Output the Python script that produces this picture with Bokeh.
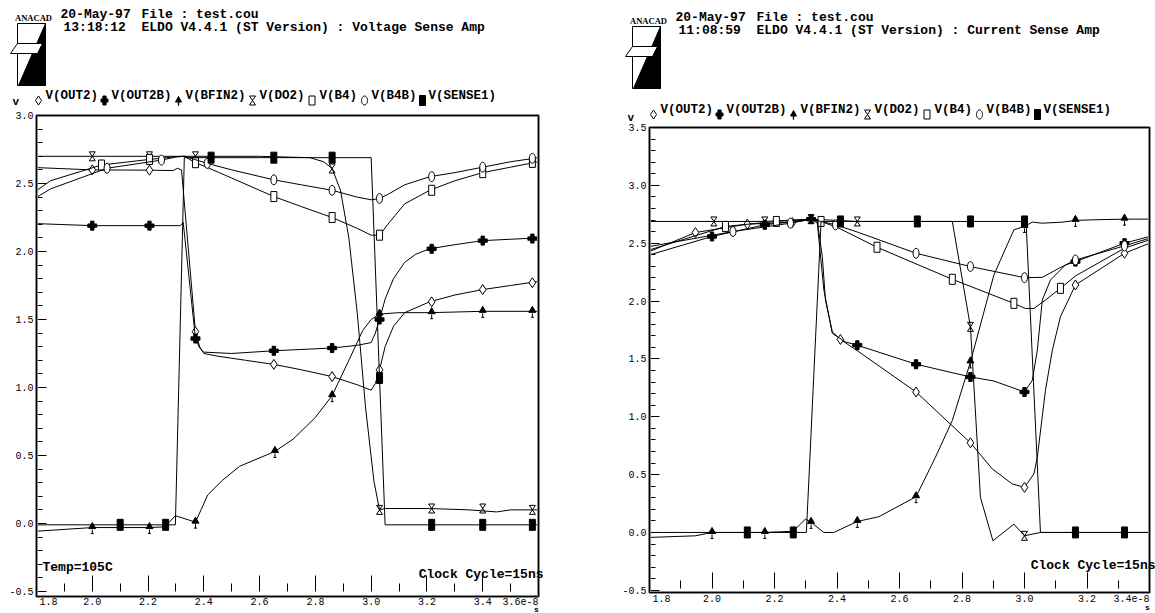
import math
from bokeh.plotting import figure
from bokeh.layouts import row
from bokeh.models import (Range1d, FixedTicker, Label, PolyAnnotation, BoxAnnotation, LinearAxis,
                          PrintfTickFormatter, CustomJSTickFormatter)
from bokeh.embed import file_html
from bokeh.resources import INLINE

# ---------------- axis ticks / labels ----------------
L_XTICKS = [1.8, 2.0, 2.2, 2.4, 2.6, 2.8, 3.0, 3.2, 3.4, 3.6]
L_XMINOR = [1.9, 2.1, 2.3, 2.5, 2.7, 2.9, 3.1, 3.3, 3.5]
L_XLABELS = ["1.8", "2.0", "2.2", "2.4", "2.6", "2.8", "3.0", "3.2", "3.4", "3.6e-8"]
L_YTICKS = [-0.5, 0.0, 0.5, 1.0, 1.5, 2.0, 2.5, 3.0]
R_XTICKS = [1.8, 2.0, 2.2, 2.4, 2.6, 2.8, 3.0, 3.2, 3.4]
R_XMINOR = [1.9, 2.1, 2.3, 2.5, 2.7, 2.9, 3.1, 3.3]
R_XLABELS = ["1.8", "2.0", "2.2", "2.4", "2.6", "2.8", "3.0", "3.2", "3.4e-8"]
R_YTICKS = [-0.5, 0.0, 0.5, 1.0, 1.5, 2.0, 2.5, 3.0, 3.5]

SERIES = ["V(OUT2)", "V(OUT2B)", "V(BFIN2)", "V(DO2)", "V(B4)", "V(B4B)", "V(SENSE1)"]

# ---------------- left panel: Voltage Sense Amp (time in 1e-8 s, volts) ----------------
L_OUT2_T = [1.8, 2.0, 2.2, 2.29, 2.305, 2.32, 2.37, 2.385, 2.40, 2.45, 2.55, 2.651, 2.75, 2.86, 2.95, 3.0, 3.015, 3.03, 3.05, 3.08, 3.12, 3.21, 3.3, 3.4, 3.5, 3.6]
L_OUT2_V = [2.617, 2.60, 2.598, 2.595, 2.612, 2.60, 1.41, 1.30, 1.25, 1.23, 1.20, 1.17, 1.13, 1.08, 1.02, 0.98, 1.03, 1.13, 1.30, 1.45, 1.55, 1.63, 1.68, 1.72, 1.75, 1.78]
L_OUT2_MT = [2.0, 2.205, 2.37, 2.651, 2.86, 3.03, 3.217, 3.4, 3.578]
L_OUT2_MV = [2.60, 2.598, 1.41, 1.17, 1.08, 1.13, 1.63, 1.72, 1.77]

L_OUT2B_T = [1.8, 2.0, 2.2, 2.316, 2.326, 2.37, 2.385, 2.40, 2.5, 2.651, 2.86, 2.95, 3.0, 3.015, 3.03, 3.05, 3.08, 3.12, 3.16, 3.21, 3.3, 3.4, 3.5, 3.6]
L_OUT2B_V = [2.205, 2.19, 2.19, 2.19, 2.215, 1.36, 1.29, 1.26, 1.25, 1.27, 1.29, 1.31, 1.33, 1.40, 1.50, 1.65, 1.80, 1.92, 1.98, 2.02, 2.05, 2.08, 2.09, 2.10]
L_OUT2B_MT = [2.0, 2.205, 2.37, 2.651, 2.86, 3.03, 3.217, 3.4, 3.578]
L_OUT2B_MV = [2.19, 2.19, 1.36, 1.27, 1.29, 1.50, 2.02, 2.08, 2.095]

L_BFIN2_T = [1.8, 2.0, 2.205, 2.26, 2.298, 2.37, 2.39, 2.414, 2.468, 2.528, 2.655, 2.72, 2.80, 2.86, 2.92, 2.97, 3.0, 3.03, 3.1, 3.21, 3.4, 3.6]
L_BFIN2_V = [-0.057, -0.03, -0.03, -0.025, 0.057, 0.01, 0.10, 0.21, 0.32, 0.42, 0.53, 0.62, 0.78, 0.94, 1.20, 1.42, 1.50, 1.54, 1.55, 1.55, 1.56, 1.56]
L_BFIN2_MT = [2.0, 2.205, 2.37, 2.655, 2.86, 3.03, 3.217, 3.4, 3.578]
L_BFIN2_MV = [-0.03, -0.03, 0.01, 0.53, 0.94, 1.54, 1.55, 1.56, 1.56]

L_DO2_T = [1.8, 2.0, 2.205, 2.37, 2.6, 2.78, 2.83, 2.86, 2.89, 2.92, 2.95, 2.98, 3.01, 3.03, 3.05, 3.21, 3.35, 3.45, 3.5, 3.6]
L_DO2_V = [2.70, 2.70, 2.70, 2.70, 2.70, 2.69, 2.66, 2.61, 2.45, 2.10, 1.55, 0.85, 0.31, 0.10, 0.11, 0.11, 0.10, 0.085, 0.10, 0.10]
L_DO2_MT = [2.0, 2.205, 2.37, 2.86, 3.03, 3.217, 3.4, 3.578]
L_DO2_MV = [2.70, 2.70, 2.70, 2.61, 0.10, 0.11, 0.11, 0.10]

L_B4_T = [1.8, 1.85, 2.033, 2.205, 2.30, 2.33, 2.37, 2.41, 2.5, 2.651, 2.75, 2.86, 2.95, 3.0, 3.03, 3.06, 3.12, 3.21, 3.3, 3.4, 3.5, 3.6]
L_B4_V = [2.447, 2.52, 2.636, 2.677, 2.697, 2.70, 2.653, 2.62, 2.54, 2.404, 2.33, 2.25, 2.17, 2.12, 2.12, 2.20, 2.35, 2.45, 2.52, 2.58, 2.62, 2.66]
L_B4_MT = [2.033, 2.205, 2.37, 2.651, 2.86, 3.03, 3.217, 3.4, 3.578]
L_B4_MV = [2.636, 2.677, 2.653, 2.404, 2.25, 2.12, 2.45, 2.58, 2.655]

L_B4B_T = [1.8, 1.85, 2.053, 2.248, 2.30, 2.33, 2.37, 2.412, 2.5, 2.651, 2.75, 2.86, 2.95, 3.0, 3.03, 3.06, 3.12, 3.21, 3.3, 3.4, 3.5, 3.6]
L_B4B_V = [2.398, 2.46, 2.612, 2.672, 2.695, 2.70, 2.675, 2.648, 2.60, 2.527, 2.49, 2.45, 2.40, 2.38, 2.39, 2.42, 2.49, 2.55, 2.58, 2.62, 2.66, 2.69]
L_B4B_MT = [2.053, 2.248, 2.412, 2.651, 2.86, 3.03, 3.217, 3.4, 3.578]
L_B4B_MV = [2.612, 2.672, 2.648, 2.527, 2.45, 2.39, 2.55, 2.62, 2.685]

L_SENSE1_T = [1.8, 2.1, 2.263, 2.298, 2.33, 2.426, 2.651, 2.86, 3.0, 3.03, 3.05, 3.217, 3.4, 3.578, 3.6]
L_SENSE1_V = [-0.01, -0.01, -0.01, -0.01, 2.69, 2.69, 2.69, 2.69, 2.69, 1.07, -0.01, -0.01, -0.01, -0.01, -0.01]
L_SENSE1_MT = [2.1, 2.263, 2.426, 2.651, 2.86, 3.03, 3.217, 3.4, 3.578]
L_SENSE1_MV = [-0.01, -0.01, 2.69, 2.69, 2.69, 1.07, -0.01, -0.01, -0.01]

# ---------------- right panel: Current Sense Amp ----------------
R_OUT2_T = [1.8, 1.947, 2.113, 2.257, 2.317, 2.337, 2.353, 2.363, 2.385, 2.411, 2.47, 2.653, 2.827, 2.897, 2.961, 3.0, 3.03, 3.041, 3.067, 3.089, 3.115, 3.163, 3.32, 3.4]
R_OUT2_V = [2.428, 2.592, 2.665, 2.679, 2.708, 2.688, 2.384, 2.009, 1.734, 1.668, 1.561, 1.214, 0.775, 0.549, 0.419, 0.39, 0.506, 0.65, 1.228, 1.575, 1.864, 2.139, 2.413, 2.50]
R_OUT2_MT = [1.947, 2.113, 2.257, 2.411, 2.653, 2.827, 3.0, 3.163, 3.32]
R_OUT2_MV = [2.592, 2.665, 2.679, 1.668, 1.214, 0.775, 0.39, 2.139, 2.413]

R_OUT2B_T = [1.8, 2.0, 2.169, 2.317, 2.337, 2.358, 2.385, 2.427, 2.465, 2.653, 2.827, 2.902, 3.0, 3.025, 3.041, 3.057, 3.083, 3.131, 3.163, 3.32, 3.4]
R_OUT2B_V = [2.399, 2.558, 2.659, 2.708, 2.673, 2.095, 1.72, 1.647, 1.618, 1.454, 1.344, 1.309, 1.214, 1.315, 1.575, 2.009, 2.182, 2.312, 2.341, 2.50, 2.558]
R_OUT2B_MT = [2.0, 2.169, 2.317, 2.465, 2.653, 2.827, 3.0, 3.163, 3.32]
R_OUT2B_MV = [2.558, 2.659, 2.708, 1.618, 1.454, 1.344, 1.214, 2.341, 2.50]

R_BFIN2_T = [1.8, 1.947, 2.0, 2.169, 2.26, 2.299, 2.317, 2.358, 2.39, 2.465, 2.534, 2.653, 2.715, 2.769, 2.827, 2.902, 2.966, 3.0, 3.025, 3.057, 3.121, 3.163, 3.217, 3.32, 3.4]
R_BFIN2_V = [-0.043, -0.029, 0.0, 0.0, 0.01, 0.116, 0.087, 0.0, 0.0, 0.095, 0.136, 0.309, 0.65, 0.968, 1.474, 2.225, 2.616, 2.645, 2.682, 2.673, 2.682, 2.697, 2.702, 2.708, 2.708]
R_BFIN2_MT = [2.0, 2.169, 2.317, 2.465, 2.653, 2.827, 3.0, 3.163, 3.32]
R_BFIN2_MV = [0.0, 0.0, 0.087, 0.095, 0.309, 1.474, 2.645, 2.697, 2.708]

R_DO2_T = [1.8, 2.006, 2.169, 2.317, 2.465, 2.769, 2.827, 2.859, 2.899, 2.966, 3.0, 3.051, 3.4]
R_DO2_V = [2.688, 2.688, 2.688, 2.708, 2.688, 2.688, 1.777, 0.303, -0.072, 0.072, -0.029, 0.0, 0.0]
R_DO2_MT = [2.006, 2.169, 2.317, 2.465, 2.827, 3.0]
R_DO2_MV = [2.688, 2.688, 2.708, 2.688, 1.777, -0.029]

R_B4_T = [1.8, 2.043, 2.206, 2.317, 2.349, 2.406, 2.528, 2.769, 2.966, 3.003, 3.03, 3.067, 3.115, 3.163, 3.32, 3.4]
R_B4_V = [2.442, 2.645, 2.688, 2.708, 2.688, 2.63, 2.465, 2.188, 1.98, 1.936, 1.936, 2.009, 2.11, 2.217, 2.457, 2.529]
R_B4_MT = [2.043, 2.206, 2.349, 2.528, 2.769, 2.966, 3.115]
R_B4_MV = [2.645, 2.688, 2.688, 2.465, 2.188, 1.98, 2.11]

R_B4B_T = [1.8, 2.067, 2.251, 2.317, 2.395, 2.47, 2.653, 2.827, 2.907, 3.0, 3.057, 3.11, 3.163, 3.32, 3.4]
R_B4B_V = [2.471, 2.601, 2.673, 2.708, 2.659, 2.592, 2.413, 2.298, 2.254, 2.202, 2.205, 2.283, 2.355, 2.477, 2.543]
R_B4B_MT = [2.067, 2.251, 2.395, 2.653, 2.827, 3.0, 3.163, 3.32]
R_B4B_MV = [2.601, 2.673, 2.659, 2.413, 2.298, 2.202, 2.355, 2.477]

R_SENSE1_T = [1.8, 2.113, 2.26, 2.302, 2.349, 2.411, 2.657, 2.827, 3.0, 3.005, 3.051, 3.163, 3.32, 3.4]
R_SENSE1_V = [0.0, 0.0, 0.0, 0.0, 2.688, 2.688, 2.688, 2.688, 2.688, 2.688, 0.0, 0.0, 0.0, 0.0]
R_SENSE1_MT = [2.113, 2.26, 2.411, 2.657, 2.827, 3.0, 3.163, 3.32]
R_SENSE1_MV = [0.0, 0.0, 2.688, 2.688, 2.688, 2.688, 0.0, 0.0]

H = 613
MONO = "Liberation Mono"


class Panel:
    """A figure whose frame covers the whole canvas; the plot box sits at a chosen pixel box."""

    def __init__(self, width, box, frame, xticks, xminor, yticks, xaxis_y):
        x0, x1, y0, y1 = box
        fl, fr, ft, fb = frame
        self.sx = (x1 - x0) / (fr - fl)
        self.sy = (y1 - y0) / (fb - ft)
        xr = Range1d(x0 - fl * self.sx, x1 + (width - fr) * self.sx)
        yr = Range1d(y0 - (H - fb) * self.sy, y1 + ft * self.sy)
        self.y_top = y1 + ft * self.sy
        self.x_left = x0 - fl * self.sx
        p = figure(width=width, height=H, x_range=xr, y_range=yr,
                   x_axis_location=None, y_axis_location=None,
                   output_backend="svg", toolbar_location=None,
                   min_border_left=0, min_border_right=0, min_border_top=0, min_border_bottom=0)
        p.outline_line_color = None
        p.background_fill_color = "white"
        p.border_fill_color = "white"
        p.grid.visible = False
        self.p = p
        # plot box (gray outer, black inner)
        p.add_layout(BoxAnnotation(left=x0, right=x1, bottom=y0, top=y1, fill_alpha=0,
                                   line_color="#8a8a8a", line_alpha=1, line_width=3))
        p.add_layout(BoxAnnotation(left=x0, right=x1, bottom=y0, top=y1, fill_alpha=0,
                                   line_color="black", line_alpha=1, line_width=1))
        # y axis on the box's left edge
        ymin = [round(yticks[0] + 0.1 * i, 1) for i in range(int(round((yticks[-1] - yticks[0]) / 0.1)) + 1)]
        ymin = [v for v in ymin if v not in yticks]
        ya = LinearAxis(fixed_location=x0, ticker=FixedTicker(ticks=yticks, minor_ticks=ymin),
                        formatter=PrintfTickFormatter(format="%.1f"))
        ya.axis_line_color = None
        ya.major_tick_in, ya.major_tick_out = 10, 0
        ya.minor_tick_in, ya.minor_tick_out = 6, 0
        ya.major_tick_line_color = "black"
        ya.minor_tick_line_color = "black"
        ya.major_label_text_font = MONO
        ya.major_label_text_font_size = "10px"
        ya.major_label_text_color = "black"
        ya.major_label_standoff = 3
        p.add_layout(ya, "left")
        # x axis ticks just above the box bottom
        xa = LinearAxis(fixed_location=xaxis_y, ticker=FixedTicker(ticks=xticks, minor_ticks=xminor),
                        formatter=CustomJSTickFormatter(code="return ''"))
        xa.axis_line_color = None
        xa.major_tick_in, xa.major_tick_out = 16, 0
        xa.minor_tick_in, xa.minor_tick_out = 8, 0
        xa.major_tick_line_color = "black"
        xa.minor_tick_line_color = "black"
        p.add_layout(xa, "below")

    def X(self, px):
        return self.x_left + px * self.sx

    def Y(self, py):
        return self.y_top - py * self.sy

    def lab(self, px, py, text, size, align="left", bold=True, font=MONO):
        self.p.add_layout(Label(x=self.X(px), y=self.Y(py), text=text, text_font=font,
                                text_font_size=f"{size}px", text_font_style="bold" if bold else "normal",
                                text_align=align, text_baseline="middle", text_color="black"))

    def poly(self, pts, fill, lw=1):
        self.p.add_layout(PolyAnnotation(xs=[self.X(a) for a, b in pts], ys=[self.Y(b) for a, b in pts],
                                         fill_color=fill if fill else "white", fill_alpha=1 if fill else 0,
                                         line_color="black", line_alpha=1, line_width=lw))


def legend_symbol(P, kind, cx, cy):
    if kind == "diamond":
        P.poly([(cx, cy - 4.5), (cx + 3, cy), (cx, cy + 4.5), (cx - 3, cy)], "white")
    elif kind == "plus":
        a, b, c, h = 1.6, 4.5, 3.5, 1.5
        P.poly([(cx - a, cy - b), (cx + a, cy - b), (cx + a, cy - h), (cx + c, cy - h), (cx + c, cy + h),
                (cx + a, cy + h), (cx + a, cy + b), (cx - a, cy + b), (cx - a, cy + h), (cx - c, cy + h),
                (cx - c, cy - h), (cx - a, cy - h)], "black")
    elif kind == "triangle":
        P.poly([(cx, cy - 4), (cx + 3, cy + 1.5), (cx - 3, cy + 1.5)], "black")
        P.poly([(cx - 0.4, cy + 1.5), (cx + 0.4, cy + 1.5), (cx + 0.4, cy + 5), (cx - 0.4, cy + 5)], "black", 0.5)
    elif kind == "hourglass":
        P.poly([(cx - 3, cy - 4.5), (cx + 3, cy - 4.5), (cx - 3, cy + 4.5), (cx + 3, cy + 4.5)], None)
    elif kind == "rect":
        P.poly([(cx - 3, cy - 4.5), (cx + 3, cy - 4.5), (cx + 3, cy + 4.5), (cx - 3, cy + 4.5)], "white")
    elif kind == "ellipse":
        P.poly([(cx + 3 * math.cos(2 * math.pi * k / 24), cy + 4.5 * math.sin(2 * math.pi * k / 24))
                for k in range(24)], "white")
    elif kind == "box":
        P.poly([(cx - 3, cy - 5), (cx + 3, cy - 5), (cx + 3, cy + 5), (cx - 3, cy + 5)], "black")


def logo(P, ox, oy):
    P.poly([(ox, oy), (ox + 28, oy), (ox + 28, oy + 62), (ox, oy + 62)], "white")
    P.poly([(ox + 28, oy), (ox + 28, oy + 62), (ox + 1, oy + 62)], "black")
    P.poly([(ox - 7, oy + 30), (ox, oy + 20), (ox + 25, oy + 20), (ox + 20, oy + 30)], "white")


def draw_series(P, T, V, MT, MV, kind):
    p, sx, sy = P.p, P.sx, P.sy
    p.line(T, V, line_color="black", line_width=1)
    if kind == "diamond":
        p.scatter(MT, MV, marker="diamond", size=10, fill_color="white", line_color="black")
    elif kind == "plus":
        p.scatter(MT, MV, marker="plus", size=9, fill_color="black", line_color="black")
    elif kind == "triangle":
        p.segment(list(MT), [v - 2 * sy for v in MV], list(MT), [v - 6 * sy for v in MV],
                  line_color="black", line_width=1)
        p.segment([t - 1.5 * sx for t in MT], [v - 6 * sy for v in MV], [t + 1.5 * sx for t in MT],
                  [v - 6 * sy for v in MV], line_color="black", line_width=1)
        p.scatter(MT, [v + 1 * sy for v in MV], marker="triangle", size=7, fill_color="black", line_color="black")
    elif kind == "hourglass":
        dx, dy = 3 * sx, 4.5 * sy
        x0s = [t - dx for t in MT] * 4
        x1s = [t + dx for t in MT] * 4
        y0s = [v + dy for v in MV] + [v - dy for v in MV] + [v + dy for v in MV] + [v - dy for v in MV]
        y1s = [v + dy for v in MV] + [v - dy for v in MV] + [v - dy for v in MV] + [v + dy for v in MV]
        p.segment(x0s, y0s, x1s, y1s, line_color="black", line_width=1)
    elif kind == "rect":
        p.rect(MT, MV, width=6, height=10, width_units="screen", height_units="screen",
               fill_color="white", line_color="black")
    elif kind == "ellipse":
        p.ellipse(MT, MV, width=6, height=10, width_units="screen", height_units="screen",
                  fill_color="white", line_color="black")
    elif kind == "box":
        p.rect(MT, MV, width=6, height=11, width_units="screen", height_units="screen",
               fill_color="black", line_color="black")


KINDS = ["diamond", "plus", "triangle", "hourglass", "rect", "ellipse", "box"]
LEG_TEXT_X = [45, 111, 185, 259, 319, 371, 428]
LEG_SYM_X = [38, 104, 178, 252, 311.5, 364, 422]


def build(width, box, frame, xticks, xminor, xlabels, yticks, xaxis_y, ox, oy, series, time_str, title,
          leg_ty, leg_sy, v_y, xlab_y, s_pos, clock_pos, temp_pos):
    P = Panel(width, box, frame, xticks, xminor, yticks, xaxis_y)
    fl, fr = frame[0], frame[1]
    for (T, V, MT, MV), kind in zip(series, KINDS):
        draw_series(P, T, V, MT, MV, kind)
    for i, (t, txt) in enumerate(zip(xticks, xlabels)):
        if i == 0:
            P.lab(fl + 3, xlab_y, txt, 10, "left", bold=False)
        elif i == len(xticks) - 1:
            P.lab(fr, xlab_y, txt, 10, "right", bold=False)
        else:
            P.p.add_layout(Label(x=t, y=P.Y(xlab_y), text=txt, text_font=MONO, text_font_size="10px",
                                 text_align="center", text_baseline="middle", text_color="black"))
    P.lab(s_pos[0], s_pos[1], "s", 8, "center")
    logo(P, ox + 17, oy + 23)
    P.lab(ox + 33, oy + 17, "ANACAD", 8.5, "center", font="Liberation Serif")
    P.lab(ox + 60, oy + 13.5, "20-May-97", 13)
    P.lab(ox + 141, oy + 13.5, "File : test.cou", 13)
    P.lab(ox + 63, oy + 27, time_str, 13)
    P.lab(ox + 141, oy + 27, title, 13)
    P.lab(ox + 12, v_y, "v", 11)
    for name, kind, tx, sxp in zip(SERIES, KINDS, LEG_TEXT_X, LEG_SYM_X):
        P.lab(ox + tx, leg_ty, name, 12.5)
        legend_symbol(P, kind, ox + sxp, leg_sy)
    P.lab(clock_pos[0], clock_pos[1], "Clock Cycle=15ns", 13, "right")
    if temp_pos:
        P.lab(temp_pos[0], temp_pos[1], "Temp=105C", 13)
    return P.p


left_series = [
    (L_OUT2_T, L_OUT2_V, L_OUT2_MT, L_OUT2_MV),
    (L_OUT2B_T, L_OUT2B_V, L_OUT2B_MT, L_OUT2B_MV),
    (L_BFIN2_T, L_BFIN2_V, L_BFIN2_MT, L_BFIN2_MV),
    (L_DO2_T, L_DO2_V, L_DO2_MT, L_DO2_MV),
    (L_B4_T, L_B4_V, L_B4_MT, L_B4_MV),
    (L_B4B_T, L_B4B_V, L_B4B_MT, L_B4B_MV),
    (L_SENSE1_T, L_SENSE1_V, L_SENSE1_MT, L_SENSE1_MV),
]
right_series = [
    (R_OUT2_T, R_OUT2_V, R_OUT2_MT, R_OUT2_MV),
    (R_OUT2B_T, R_OUT2B_V, R_OUT2B_MT, R_OUT2B_MV),
    (R_BFIN2_T, R_BFIN2_V, R_BFIN2_MT, R_BFIN2_MV),
    (R_DO2_T, R_DO2_V, R_DO2_MT, R_DO2_MV),
    (R_B4_T, R_B4_V, R_B4_MT, R_B4_MV),
    (R_B4B_T, R_B4B_V, R_B4B_MT, R_B4B_MV),
    (R_SENSE1_T, R_SENSE1_V, R_SENSE1_MT, R_SENSE1_MV),
]

pl = build(614, (1.8, 3.6, -0.537, 3.0), (36, 538, 115, 596), L_XTICKS, L_XMINOR, L_XLABELS, L_YTICKS, -0.5,
           0, 0, left_series, "13:18:12", "ELDO V4.4.1 (ST Version) : Voltage Sense Amp",
           95, 100, 101, 601, (536, 609), (543, 574), (42, 567))
pr = build(541, (1.8, 3.4, -0.519, 3.5), (35, 535, 127, 592), R_XTICKS, R_XMINOR, R_XLABELS, R_YTICKS, -0.485,
           1, 3, right_series, "11:08:59", "ELDO V4.4.1 (ST Version) : Current Sense Amp",
           109, 114, 117, 598, (533, 607), (541, 565), None)

layout = row(pl, pr, spacing=0)
open("out.html", "w").write(file_html(layout, INLINE))
